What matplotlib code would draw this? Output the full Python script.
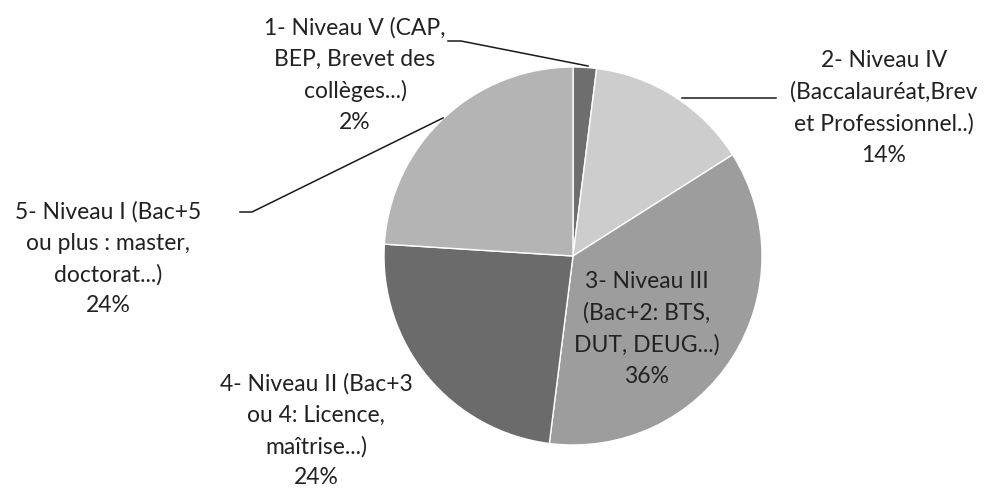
import numpy as np
import matplotlib.pyplot as plt

plt.rcParams['font.family'] = ['Lato', 'DejaVu Sans']

# parts of the pie, clockwise from the top
labels = ['1- Niveau V (CAP,\nBEP, Brevet des\ncollèges...)',
          '2- Niveau IV\n(Baccalauréat,Brev\net Professionnel..)',
          '3- Niveau III\n(Bac+2: BTS,\nDUT, DEUG...)',
          '4- Niveau II (Bac+3\nou 4: Licence,\nmaîtrise...)',
          '5- Niveau I (Bac+5\nou plus : master,\ndoctorat...)']
shares = [2, 14, 36, 24, 24]
colors = ['#6e6e6e', '#cdcdcd', '#9d9d9d', '#6b6b6b', '#b4b4b4']

H = 493
fig = plt.figure(figsize=(9.88, 4.93), dpi=100)
ax = fig.add_axes([0, 0, 1, 1])

ax.pie(shares, colors=colors, startangle=90, counterclock=False,
       center=(573, H - 256), radius=189,
       wedgeprops=dict(edgecolor='white', linewidth=1.0))
ax.set_xlim(0, 988)
ax.set_ylim(0, H)
ax.set_aspect('equal')
ax.axis('off')

# label block centres (pixel coords from top)
pos = [(355, 75), (884, 108), (647, 329), (316, 431), (108, 259)]
for lab, s, (x, y) in zip(labels, shares, pos):
    ax.text(x, H - y, lab + '\n' + str(s) + '%', ha='center', va='center',
            fontsize=16.5, color='#222222', linespacing=1.58)

# leader lines
lines = [[(448, 41), (461, 41), (588, 66)],
         [(682, 98), (776, 98)],
         [(240, 212), (252, 212), (443, 118)]]
for pts in lines:
    xs = [p[0] for p in pts]
    ys = [H - p[1] for p in pts]
    ax.plot(xs, ys, color='#1a1a1a', lw=1.1)

fig.savefig('out.png', dpi=100)
